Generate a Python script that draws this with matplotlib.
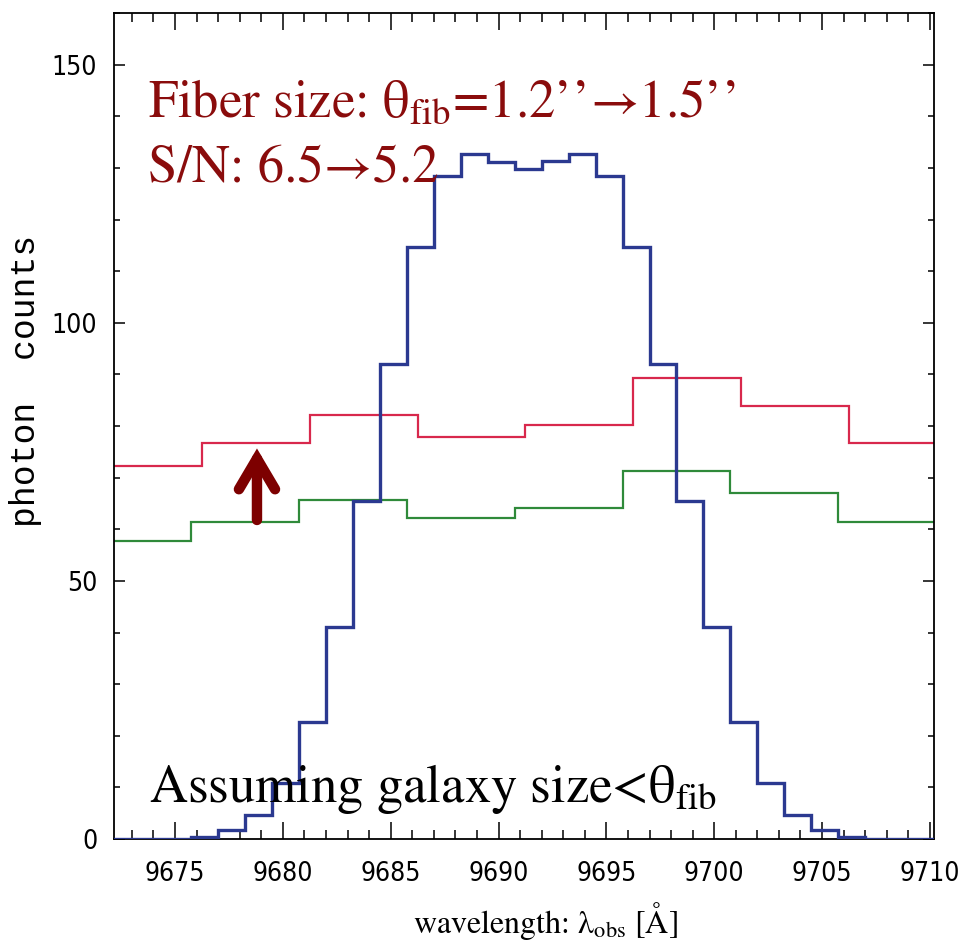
import numpy as np
import matplotlib
matplotlib.use("Agg")
from matplotlib import pyplot as plt
from matplotlib import font_manager as fm
from matplotlib.patches import FancyArrowPatch
from matplotlib.ticker import MultipleLocator

plt.rcParams['mathtext.fontset'] = 'stix'

# line profile, 1.25 A bins
blue_edges = 9670.75 + 1.25 * np.arange(33)
blue_counts = [0, 0, 0.05, 0.1, 0.3, 1.7, 4.6, 10.9, 22.6, 41.0, 65.4, 92.0,
               114.7, 128.5, 132.7, 131.1, 129.8, 131.3, 132.7, 128.5, 114.7,
               92.0, 65.4, 41.0, 22.6, 10.9, 4.6, 1.7, 0.3, 0.1, 0.05, 0]

# sky/noise levels, 5 A bins
red_edges = 9671.25 + 5 * np.arange(9)
red_counts = [72.3, 76.8, 82.2, 77.8, 80.2, 89.3, 83.9, 76.8]
green_edges = 9670.75 + 5 * np.arange(9)
green_counts = [57.8, 61.5, 65.7, 62.1, 64.2, 71.3, 67.1, 61.5]

arrow_x = 9678.8
arrow_from = 61.8
arrow_to = 77.0

# condensed face for tick numbers if one is around
tick_font = fm.FontProperties(family='DejaVu Sans', stretch='condensed', size=19)
if 'Condensed' not in fm.findfont(tick_font):
    tick_font = fm.FontProperties(family='DejaVu Sans', size=17)

fig = plt.figure(figsize=(9.61, 9.5), dpi=100)
ax = fig.add_axes([0.1186, 0.1168, 0.8533, 0.8695])

ax.stairs(red_counts, red_edges, color='#d8284c', lw=1.6)
ax.stairs(green_counts, green_edges, color='#2f8a3a', lw=1.6)
ax.stairs(blue_counts, blue_edges, color='#2b3990', lw=2.4, zorder=3)

arr = FancyArrowPatch((arrow_x, arrow_from), (arrow_x, arrow_to),
                      arrowstyle='->,head_length=22,head_width=13',
                      mutation_scale=1, lw=7.5, color='#7d0000',
                      shrinkA=0, shrinkB=5, capstyle='round', joinstyle='miter')
ax.add_patch(arr)

ax.set_xlim(9672.17, 9710.19)
ax.set_ylim(0, 160)
ax.xaxis.set_major_locator(MultipleLocator(5))
ax.xaxis.set_minor_locator(MultipleLocator(1))
ax.yaxis.set_major_locator(MultipleLocator(50))
ax.yaxis.set_minor_locator(MultipleLocator(10))
ax.tick_params(which='both', direction='in', top=True, right=True, width=1.1)
ax.tick_params(axis='x', which='major', length=12, pad=16)
ax.tick_params(axis='x', which='minor', length=6.5)
ax.tick_params(axis='y', which='major', length=8, pad=12)
ax.tick_params(axis='y', which='minor', length=4)
for lab in ax.get_xticklabels() + ax.get_yticklabels():
    lab.set_fontproperties(tick_font)
for sp in ax.spines.values():
    sp.set_linewidth(1.3)

ax.set_xlabel(r'wavelength: λ$_{\mathrm{obs}}$ [Å]', family='STIXGeneral',
              fontsize=23)
ax.xaxis.set_label_coords(0.526, -0.074)
ax.set_ylabel('photon  counts', family=['Liberation Mono', 'DejaVu Sans Mono'],
              fontsize=25)
ax.yaxis.set_label_coords(-0.088, 0.555)

txt_col = '#8a0c0c'
ax.text(9673.75, 139.9, r'Fiber size: $\mathrm{θ}_{\mathrm{fib}}$=1.2’’→1.5’’',
        family='STIXGeneral', fontsize=38, color=txt_col)
ax.text(9673.75, 127.3, 'S/N: 6.5→5.2', family='STIXGeneral',
        fontsize=38, color=txt_col)
ax.text(9673.8, 7.2, r'Assuming galaxy size<$\mathrm{θ}_{\mathrm{fib}}$',
        family='STIXGeneral', fontsize=38, color='black')

fig.savefig('out.png', dpi=100)
